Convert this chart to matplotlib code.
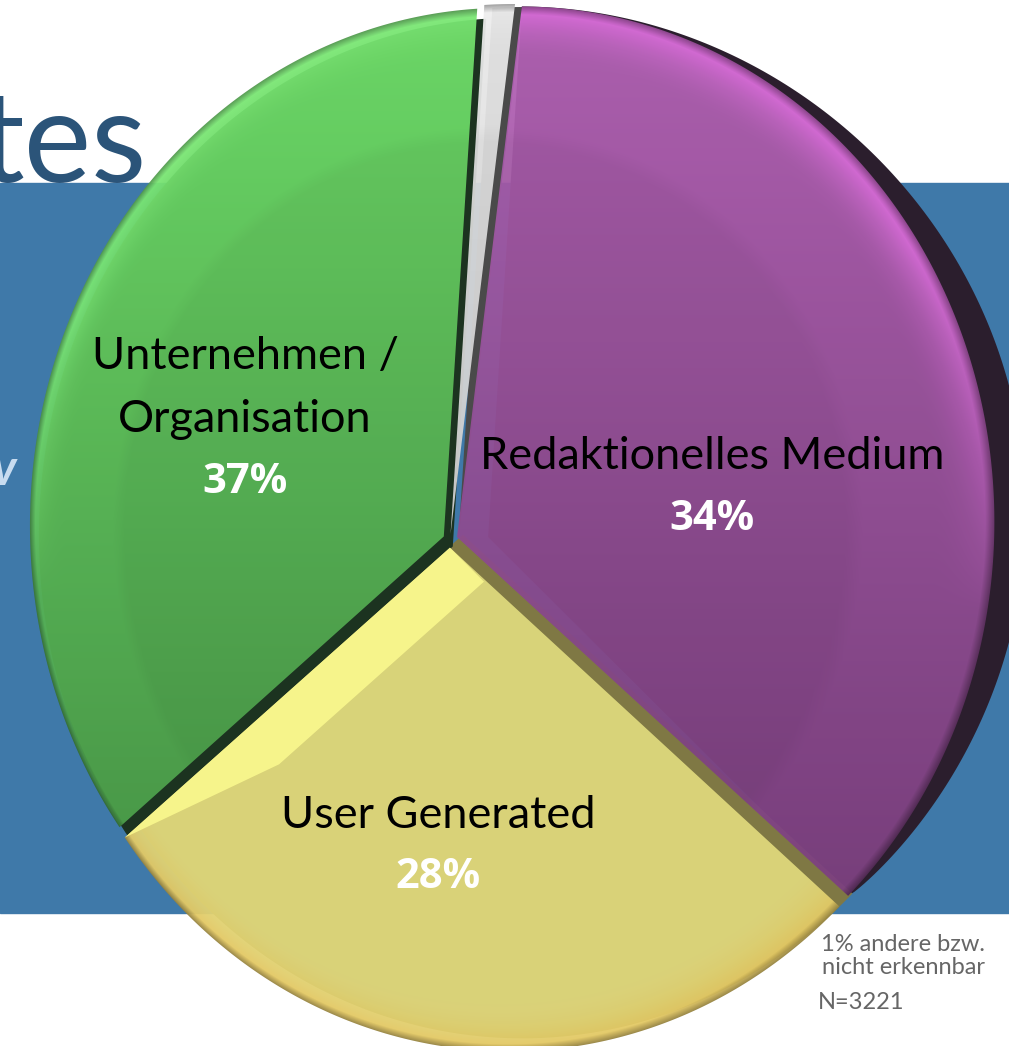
import numpy as np
import matplotlib.pyplot as plt
from matplotlib.patches import Polygon, Rectangle
from matplotlib.colors import to_rgb

# shares of the sources, clockwise from the top
labels = ["andere", "Redaktionelles Medium", "User Generated", "Unternehmen /\nOrganisation"]
shares = [1, 34, 28, 37]
pct_text = ["", "34%", "28%", "37%"]
note_lines = ["1% andere bzw.", "nicht erkennbar"]
n_total = 3221

face_top = ["#e8e8e8", "#b463b6", "#dcdc80", "#70e06a"]
face_bot = ["#c8c8c8", "#743c78", "#e0d87c", "#449044"]
rim_col = ["#f0f0f0", "#e070e0", "#e4c862", "#7ce876"]
side_col = ["#4a4a4a", "#2b1e2d", "#7f7844", "#1c3320"]
side_off = [(8, 3), (32, 0), (13, -13), (9, 10)]
side_taper = [False, True, False, False]
explode = [0.012, 0.016, 0.015, 0.015]

W, H = 1009, 1046
fig = plt.figure(figsize=(W / 100, H / 100), dpi=100)
ax = fig.add_axes([0, 0, 1, 1])

# perspective of the tilted disc: unit circle -> pixel coordinates
AX, AY = 450, 540
A, B = 467.4, 512.2
P, Q = -0.1263, 0.0244


def warp(u, v):
    w = -v
    d = 1 + P * u + Q * w
    return AX + A * u / d, AY + B * w / d


def unwarp(X, Y):
    xp, yp = X - AX, Y - AY
    a11, a12 = A - xp * P, -xp * Q
    a21, a22 = -yp * P, B - yp * Q
    det = a11 * a22 - a12 * a21
    u = (xp * a22 - a12 * yp) / det
    w = (a11 * yp - a21 * xp) / det
    return u, -w


wedges, _ = ax.pie(shares, startangle=86, counterclock=False, explode=explode,
                   radius=1, center=(0, 0))

polys = []
for wd in wedges:
    cx, cy = wd.center
    t = np.radians(np.linspace(wd.theta1, wd.theta2, 200))
    u = np.concatenate([[cx], cx + wd.r * np.cos(t)])
    v = np.concatenate([[cy], cy + wd.r * np.sin(t)])
    X, Y = warp(u, v)
    polys.append(np.column_stack([X, Y]))
    wd.remove()

ax.set_xlim(0, W)
ax.set_ylim(H, 0)
ax.set_aspect("auto")
ax.axis("off")

# slide background
ax.add_patch(Rectangle((0, 183), W, 730, color="#3f79a9", zorder=0))
ax.text(147, 182, "tes", ha="right", va="baseline", fontsize=92,
        family="Lato", color="#2b5479", zorder=1)
ax.text(16, 485, "v", ha="right", va="baseline", fontsize=36, family="Lato",
        style="italic", weight="bold", color="#c8dcf0", zorder=1)

# side walls of the slices
for k, pg in enumerate(polys):
    off = np.array(side_off[k], dtype=float)
    if side_taper[k]:
        y0, y1 = pg[:, 1].min(), pg[:, 1].max()
        wgt = np.sin(np.pi * np.clip((pg[:, 1] - y0) / (y1 - y0), 0, 1)) ** 0.6
        shifted = pg + wgt[:, None] * off
    else:
        shifted = pg + off
    ax.add_patch(Polygon(shifted, closed=True, fc=side_col[k], ec="none", zorder=2))

# shaded faces
gx, gy = np.meshgrid(np.arange(W) + 0.5, np.arange(H) + 0.5)
gu, gv = unwarp(gx, gy)
tt = np.clip((gy - 20) / 1000, 0, 1)[..., None]

for k, (wd, pg) in enumerate(zip(wedges, polys)):
    cx, cy = wd.center
    rho = np.hypot(gu - cx, gv - cy)
    c0, c1 = np.array(to_rgb(face_top[k])), np.array(to_rgb(face_bot[k]))
    img = c0 * (1 - tt) + c1 * tt
    if k != 2:
        # subtle inner disc
        inner = np.clip((0.78 - rho) / 0.03, 0, 1)[..., None]
        img = img * (1 - 0.04 * inner)
    # glossy rim
    rim = np.clip((rho - 0.90) / 0.09, 0, 1) ** 2
    if k == 2:
        rim = rim * np.clip(-(gv - cy) * 1.4, 0, 1)
    else:
        rim = rim * np.clip((gv - cy) * 1.6 + 0.2, 0, 1)
    img = img * (1 - rim[..., None]) + np.array(to_rgb(rim_col[k])) * rim[..., None]
    edge = np.clip((rho - 0.985) / 0.015, 0, 1)[..., None]
    img = img * (1 - 0.35 * edge)
    face = Polygon(pg, closed=True, fc="none", ec="none", zorder=3)
    ax.add_patch(face)
    im = ax.imshow(np.clip(img, 0, 1), extent=(0, W, H, 0), origin="upper",
                   zorder=3, alpha=0.95, interpolation="nearest")
    im.set_clip_path(face)

# light bevel on the yellow slice along the cut towards the green one
pg = polys[2]
apex, tip = pg[0], pg[1]
bevel = np.array([apex, apex + [34, 34], apex + 0.63 * (tip - apex) + [34, 34], tip])
ax.add_patch(Polygon(bevel, closed=True, fc="#f8f68c", ec="none", alpha=0.96, zorder=3.5))

ax.set_xlim(0, W)
ax.set_ylim(H, 0)

# labels
lab_font = dict(family="Lato", fontsize=32.5, color="black", ha="center", va="baseline", zorder=5)
pct_font = dict(family="Open Sans", fontsize=30, weight="bold", color="white", ha="center",
                va="baseline", zorder=5)
ax.text(245, 369, "Unternehmen /", **lab_font)
ax.text(245, 432, "Organisation", **lab_font)
ax.text(245, 493, pct_text[3], **pct_font)
ax.text(712, 469, labels[1], **lab_font)
ax.text(712, 530, pct_text[1], **pct_font)
ax.text(438, 828, labels[2], **lab_font)
ax.text(438, 888, pct_text[2], **pct_font)

note = dict(family="Lato", fontsize=17, color="#666666", va="baseline", zorder=5)
ax.text(903, 951, note_lines[0], ha="center", **note)
ax.text(903, 974, note_lines[1], ha="center", **note)
ax.text(818, 1009, f"N={n_total}", ha="left", **note)

fig.savefig("out.png", dpi=100)
